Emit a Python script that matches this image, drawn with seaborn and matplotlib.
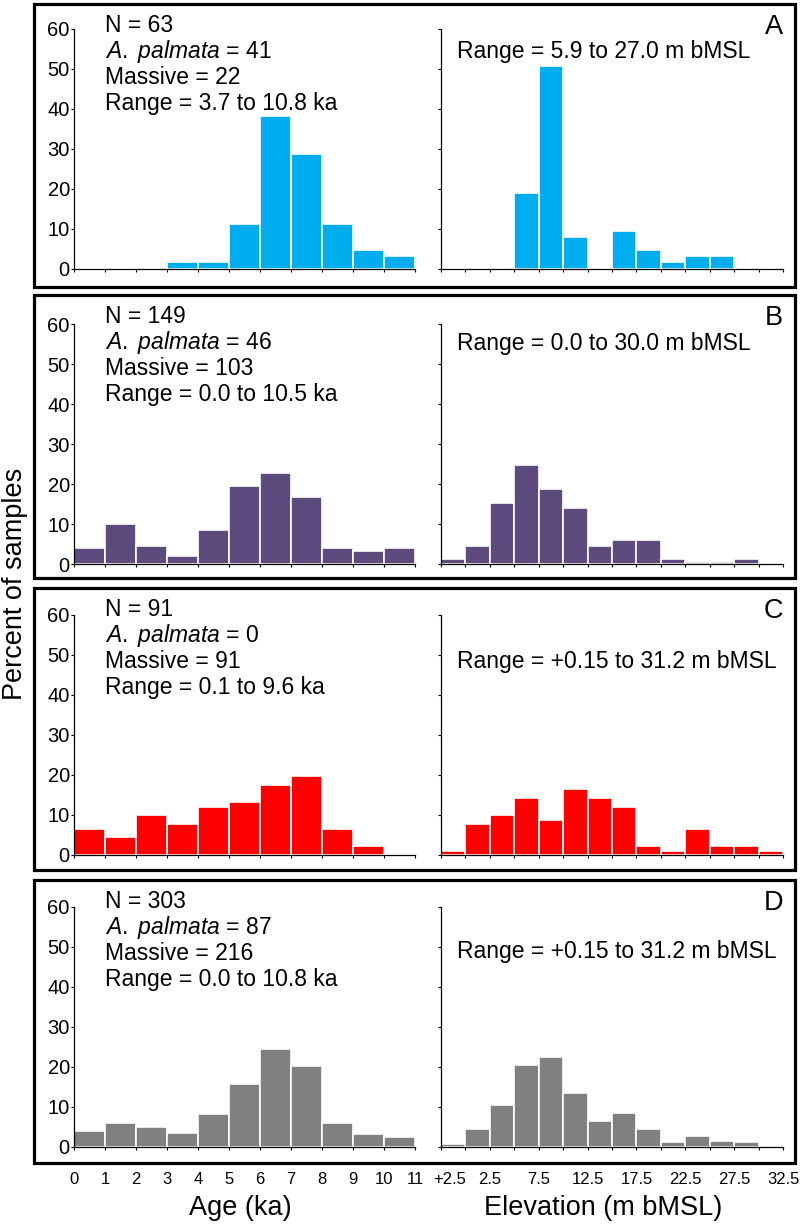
import numpy as np
import pandas as pd
import matplotlib
matplotlib.use("Agg")
import matplotlib.pyplot as plt
import matplotlib.transforms as mtransforms
import seaborn as sns
from matplotlib.patches import Rectangle

# bin edges (ka and m bMSL)
age_edges = np.arange(0, 12, 1)
elev_edges = np.arange(-2.5, 33, 2.5)
age_ticklabels = [str(i) for i in range(12)]
elev_ticklabels = ["+2.5", "", "2.5", "", "7.5", "", "12.5", "", "17.5", "",
                   "22.5", "", "27.5", "", "32.5"]

# percent of samples per bin
age_a = [0, 0, 0, 1.6, 1.6, 11.1, 38.1, 28.6, 11.1, 4.8, 3.2]
elev_a = [0, 0, 0, 19.0, 50.8, 7.9, 0, 9.5, 4.8, 1.6, 3.2, 3.2, 0, 0]
age_b = [4.0, 10.1, 4.7, 2.0, 8.7, 19.5, 22.8, 16.8, 4.0, 3.4, 4.0]
elev_b = [1.3, 4.7, 15.4, 24.8, 18.8, 14.1, 4.7, 6.0, 6.0, 1.3, 0.7, 0.7, 1.3, 0]
age_c = [6.6, 4.4, 9.9, 7.7, 12.1, 13.2, 17.6, 19.8, 6.6, 2.2, 0]
elev_c = [1.1, 7.7, 9.9, 14.3, 8.8, 16.5, 14.3, 12.1, 2.2, 1.1, 6.6, 2.2, 2.2, 1.1]
age_d = [3.9, 6.0, 5.0, 3.4, 8.2, 15.8, 24.4, 20.1, 6.0, 3.2, 2.4]
elev_d = [0.8, 4.4, 10.5, 20.4, 22.5, 13.5, 6.5, 8.5, 4.4, 1.2, 2.8, 1.4, 1.2, 0]

letters = ["A", "B", "C", "D"]
colors = ["#00AEEF", "#5E4B7E", "#FF0000", "#808080"]
n_text = ["N = 63", "N = 149", "N = 91", "N = 303"]
palmata = ["41", "46", "0", "87"]
massive = ["22", "103", "91", "216"]
age_range = ["3.7 to 10.8", "0.0 to 10.5", "0.1 to 9.6", "0.0 to 10.8"]
elev_range = ["5.9 to 27.0", "0.0 to 30.0", "+0.15 to 31.2", "+0.15 to 31.2"]

ages = [age_a, age_b, age_c, age_d]
elevs = [elev_a, elev_b, elev_c, elev_d]

sns.set_style("ticks")
plt.rcParams['font.family'] = ['Liberation Sans', 'DejaVu Sans']
plt.rcParams['text.color'] = 'black'
plt.rcParams['mathtext.fontset'] = 'custom'
plt.rcParams['mathtext.rm'] = 'Liberation Sans'
plt.rcParams['mathtext.it'] = 'Liberation Sans:italic'

W, H = 800, 1226
fig = plt.figure(figsize=(W / 100, H / 100), dpi=100)


def fx(x):
    return x / W


def fy(y):
    return 1 - y / H


frame_tops = [4, 295, 588, 880]
frame_bottoms = [287, 578, 870, 1163]
zero_y = [268.7, 564.3, 855, 1146.7]
elev_text_off = [54, 55, 80, 78]


def draw_hist(ax, edges, pct, color):
    df = pd.DataFrame({"x": (edges[:-1] + edges[1:]) / 2, "pct": pct})
    sns.histplot(data=df, x="x", weights="pct",
                 binwidth=float(edges[1] - edges[0]),
                 binrange=(float(edges[0]), float(edges[-1])),
                 color=color, alpha=1, edgecolor="white", linewidth=1.2, ax=ax)


def style_axis(ax, edges, ylabels, xlabels):
    ax.set_xlim(edges[0], edges[-1])
    ax.set_ylim(0, 60)
    sns.despine(ax=ax)
    for s in ["left", "bottom"]:
        ax.spines[s].set_linewidth(0.9)
        ax.spines[s].set_color("black")
    ax.set_yticks(range(0, 61, 10))
    ax.set_xticks(edges)
    ax.tick_params(axis="both", direction="out", length=2.5, width=0.8, colors="black")
    ax.tick_params(axis="y", labelsize=14.5, pad=0.5)
    if not ylabels:
        ax.set_yticklabels([])
    if xlabels is None:
        ax.set_xticklabels([])
    else:
        ax.set_xticklabels(xlabels)
        ax.tick_params(axis="x", labelsize=12, pad=16)
    ax.set_xlabel("")
    ax.set_ylabel("")
    ax.set_facecolor("none")


for i in range(4):
    top, bot = frame_tops[i], frame_bottoms[i]
    fig.patches.append(Rectangle((fx(34), fy(bot)), fx(761), (bot - top) / H,
                                 transform=fig.transFigure, fill=False,
                                 edgecolor="black", linewidth=2.3, zorder=0))
    z = zero_y[i]
    last = i == 3

    ax1 = fig.add_axes([fx(74), fy(z), fx(341), 240 / H])
    draw_hist(ax1, age_edges, ages[i], colors[i])
    style_axis(ax1, age_edges, True, age_ticklabels if last else None)

    ax2 = fig.add_axes([fx(441), fy(z), fx(342), 240 / H])
    draw_hist(ax2, elev_edges, elevs[i], colors[i])
    style_axis(ax2, elev_edges, False, elev_ticklabels if last else None)
    if last:
        # the "+2.5" label sits a little right of its tick in the original
        lab = ax2.get_xticklabels()[0]
        lab.set_transform(lab.get_transform() +
                          mtransforms.ScaledTranslation(0.09, 0, fig.dpi_scale_trans))

    lines = [n_text[i],
             r"$\it{A.\ palmata}$ = " + palmata[i],
             "Massive = " + massive[i],
             "Range = " + age_range[i] + " ka"]
    for k, line in enumerate(lines):
        fig.text(fx(105), fy(top + 28 + 26 * k), line, fontsize=16.5,
                 va="baseline", ha="left")
    fig.text(fx(457), fy(top + elev_text_off[i]),
             "Range = " + elev_range[i] + " m bMSL", fontsize=16.5,
             va="baseline", ha="left")
    fig.text(fx(783), fy(top + 30), letters[i], fontsize=19.5,
             va="baseline", ha="right")

fig.text(fx(15), fy(584), "Percent of samples", fontsize=19.5, rotation=90,
         va="center", ha="center")
fig.text(fx(240), fy(1208), "Age (ka)", fontsize=19.5, va="center", ha="center")
fig.text(fx(603), fy(1208), "Elevation (m bMSL)", fontsize=19.5,
         va="center", ha="center")

fig.savefig("out.png", dpi=100, facecolor="white")
